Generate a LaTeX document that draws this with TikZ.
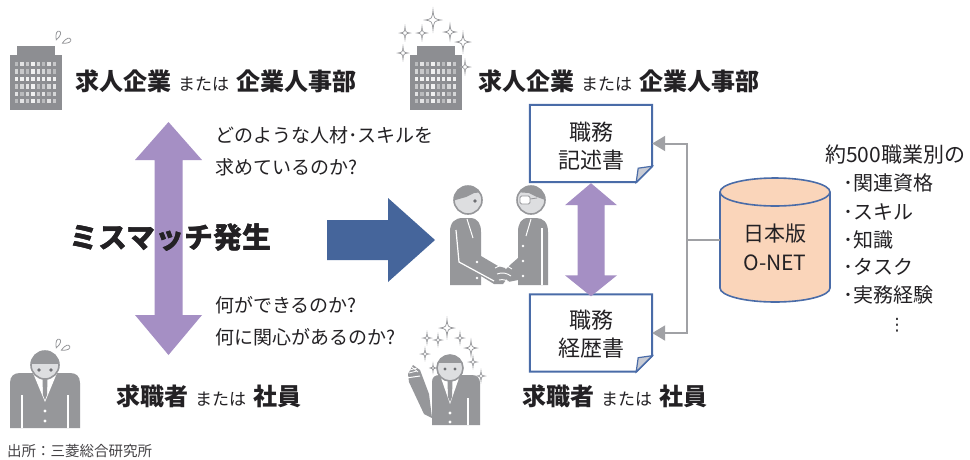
\documentclass[tikz,border=0pt]{standalone}
\usepackage{fontspec}
\usepackage{pdfrender}
\setmainfont{Noto Sans CJK JP}
\newfontfamily\symfont{DejaVu Sans}
\usetikzlibrary{arrows.meta,calc}

\definecolor{ink}{RGB}{35,33,36}
\definecolor{lilac}{RGB}{165,143,196}
\definecolor{navy}{RGB}{69,101,155}
\definecolor{docblue}{RGB}{74,108,168}
\definecolor{foldgray}{RGB}{200,203,212}
\definecolor{peach}{RGB}{250,213,186}
\definecolor{pict}{RGB}{150,151,154}
\definecolor{bldg}{RGB}{141,142,146}
\definecolor{pictdark}{RGB}{110,111,115}
\definecolor{face}{RGB}{221,222,224}
\definecolor{linkgray}{RGB}{160,161,165}

\newcommand\fsz[2]{\fontsize{#1}{#2}\selectfont}
\newcommand\rolepair[2]{{\fsz{24}{28}\bfseries #1}\hspace{7pt}{\fsz{17}{20}または}\hspace{7pt}{\fsz{24}{28}\bfseries #2}}
% text with a white outline: a stroked white copy under the filled text
\newcommand\whitehalo[1]{%
  \rlap{\textpdfrender{TextRenderingMode=Stroke,LineWidth=5.2,LineJoin=1,StrokeColor=white}{#1}}#1}

\tikzset{
  txt/.style={inner sep=0pt, text=ink, anchor=west},
  question/.style={txt, font=\fsz{19}{22}},
  listitem/.style={txt, font=\fsz{20}{24}},
  doctext/.style={inner sep=0pt, text=ink, align=center, font=\fsz{22}{28},
                  minimum width=122pt, minimum height=77pt},
  docline/.style={draw=docblue, line width=2pt, fill=white, line join=miter},
  link/.style={draw=linkgray, line width=2pt},
  linktip/.style={-{Triangle[length=13pt,width=15pt]}},
  mislabel/.style={txt, font=\fsz{29}{32}\bfseries},
  tower/.pic={
    \fill[bldg] (7,-9) rectangle (45,1);
    \fill[bldg] (0,0) rectangle (52,55);
    \foreach \r in {0,...,5}{
      \foreach \c in {0,...,7}{
        \pgfmathtruncatemacro\s{mod(\r*7+\c*3+\r*\c,5)}
        \pgfmathsetmacro\op{0.4+0.12*\s}
        \fill[white, opacity=\op] (5+\c*5.4, 7+\r*7.4) rectangle ++(3.4,4.4);
      }
    }
  },
  sparkle/.pic={
    \filldraw[fill=white, draw=pict, line width=0.7pt]
      (0,-1.25) .. controls (0.12,-0.15) .. (1,0) .. controls (0.12,0.15) .. (0,1.25)
      .. controls (-0.12,0.15) .. (-1,0) .. controls (-0.12,-0.15) .. (0,-1.25) -- cycle;
  },
  drop/.pic={
    \draw[pict, line width=0.8pt] (0,-5) .. controls (-3.5,1) and (-2.2,4) .. (0,4)
      .. controls (2.2,4) and (3.5,1) .. (0,-5) -- cycle;
  }
}

\begin{document}
\begin{tikzpicture}[x=1pt,y=-1pt]
\useasboundingbox (0,0) rectangle (970,459);
\fill[white] (0,0) rectangle (970,459);

% ---------- left: company (troubled) ----------
\pic at (10,55) {tower};
\pic[rotate=160] at (58,35) {drop};
\pic[rotate=115] at (67,41) {drop};
\node[txt] (hqL) at (75,81) {\rolepair{求人企業}{企業人事部}};

% ---------- left: mismatch double arrow ----------
\coordinate (lt) at (168.5,122);
\coordinate (lb) at (168.5,355);
\fill[lilac] let \p1=(lt), \p2=(lb) in
  (\x1,\y1) -- ({\x1+33.5pt},{\y1-38pt}) -- ({\x1+14pt},{\y1-38pt})
  -- ({\x1+14pt},{\y2+40pt}) -- ({\x1+33.5pt},{\y2+40pt}) -- (\x2,\y2)
  -- ({\x1-33.5pt},{\y2+40pt}) -- ({\x1-14pt},{\y2+40pt})
  -- ({\x1-14pt},{\y1-38pt}) -- ({\x1-33.5pt},{\y1-38pt}) -- cycle;

\node[question] (q1) at (215,135) {どのような人材･スキルを};
\node[question] (q2) at (215,167) {求めているのか?};
\node[question] (q3) at (215,305) {何ができるのか?};
\node[question] (q4) at (215,337) {何に関心があるのか?};

\node[mislabel] (mis) at (69,238) {\whitehalo{ミスマッチ発生}};

% ---------- left: job seeker (troubled) ----------
\begin{scope}[shift={(45,365)}]
  \fill[pict] (-35,63) -- (-35,18) .. controls (-35,11) and (-31,8) .. (-25,8)
    -- (25,8) .. controls (31,8) and (35,11) .. (35,18) -- (35,63) -- cycle;
  \fill[white] (-12,8) -- (12,8) -- (0,37) -- cycle;
  \fill[pict] (-2.5,14) -- (2.5,14) -- (2,30) -- (0,35) -- (-2,30) -- cycle;
  \draw[white, line width=1.4pt] (-23,30) -- (-23,63) (23,30) -- (23,63);
  \fill[white] (0,46) circle[radius=1.6] (0,56) circle[radius=1.6];
  \fill[face] (0,0) circle[radius=14];
  \begin{scope}
    \clip (0,0) circle[radius=14];
    \fill[pict] (-15,-15) rectangle (15,-1);
  \end{scope}
  \draw[pict, line width=1.6pt] (0,0) circle[radius=14];
  \fill[pictdark] (-6,5) circle[radius=1.8] (6,5) circle[radius=1.8];
\end{scope}
\pic[rotate=160] at (58,343) {drop};
\pic[rotate=115] at (66,348) {drop};
\node[txt] (hsL) at (116,396) {\rolepair{求職者}{社員}};

% ---------- source ----------
\node[txt, font=\fsz{14.5}{16}, text=ink!85] (src) at (7,451) {出所：三菱総合研究所};

% ---------- big blue arrow ----------
\coordinate (bl) at (327,240);
\coordinate (br) at (435,240);
\fill[navy] let \p1=(bl), \p2=(br) in
  (\x1,{\y1+20pt}) -- ({\x2-47pt},{\y1+20pt}) -- ({\x2-47pt},{\y1+42pt}) -- (\x2,\y2)
  -- ({\x2-47pt},{\y1-42pt}) -- ({\x2-47pt},{\y1-20pt}) -- (\x1,{\y1-20pt}) -- cycle;

% ---------- handshake ----------
% left figure
\fill[pict] (450,285) -- (450,232) .. controls (450,222) and (455,218) .. (463,218)
  -- (470,218) .. controls (478,218) and (481,224) .. (481,232) -- (481,256)
  -- (498,266) -- (505,268) -- (509,276) -- (503,284) -- (494,284) -- (481,276)
  -- (481,285) -- cycle;
\draw[white, line width=1.2pt] (456,230) -- (459,262) -- (494,281);
\draw[white, line width=1pt] (467,219) -- (473,238);
\fill[white] (477,262) circle[radius=1.3] (477,278) circle[radius=1.3];
% right figure
\fill[pict] (548,285) -- (548,232) .. controls (548,222) and (543,218) .. (536,218)
  -- (528,218) .. controls (521,218) and (518,224) .. (518,232) -- (518,258)
  -- (510,265) -- (503,272) -- (508,282) -- (518,280) -- (518,285) -- cycle;
\draw[white, line width=1.2pt] (542,228) -- (542,285);
\draw[white, line width=1pt] (531,219) -- (526,236);
\fill[white] (523,246) circle[radius=1.3] (523,261) circle[radius=1.3] (523,276) circle[radius=1.3];
% clasped hands
\draw[white, line width=0.9pt] (495,268) .. controls (501,264) and (507,265) .. (512,269)
  (497,274) .. controls (502,272) and (507,273) .. (511,276)
  (499,280) .. controls (503,279) and (507,280) .. (510,283);
% heads
\fill[face] (468,200) circle[radius=14];
\begin{scope}
  \clip (468,200) circle[radius=14];
  \fill[pict] (452,184) -- (484,184) -- (484,192) -- (474,193) -- (466,197) -- (452,201) -- cycle;
\end{scope}
\draw[pict, line width=1.6pt] (468,200) circle[radius=14];
\fill[pictdark] (475,201) circle[radius=1.8];
\fill[face] (531,200) circle[radius=14];
\begin{scope}
  \clip (531,200) circle[radius=14];
  \fill[pict] (515,184) -- (548,184) -- (548,201) -- (537,197) -- (529,193) -- (515,192) -- cycle;
\end{scope}
\draw[pict, line width=1.6pt] (531,200) circle[radius=14];
\filldraw[fill=white, draw=pict, line width=0.8pt, rounded corners=1.5pt] (520,196) rectangle (530,204);
\draw[pict, line width=0.8pt] (530,199) -- (537,198);

% ---------- right: company (pleased) ----------
\pic at (410,55) {tower};
\foreach \sx/\sy/\sr in {433/20/8, 405/33/5, 422/33/5, 450/32/6, 463/42/7, 403/53/5, 465/67/5}
  \pic[scale=\sr] at (\sx,\sy) {sparkle};
\node[txt] (hqR) at (478,81) {\rolepair{求人企業}{企業人事部}};

% ---------- right: job seeker (pleased) ----------
\begin{scope}[shift={(450,368)}]
  \fill[pict] (-18,57) -- (-18,14) .. controls (-18,9) and (-15,7) .. (-10,7)
    -- (22,7) .. controls (27,7) and (30,10) .. (30,15) -- (30,57) -- cycle;
  \fill[pict] (-42,6) -- (-37,-3) -- (-30,2) -- (-21,26) -- (-18,50) -- (-26,46) -- (-41,14) -- cycle;
  \draw[white, line width=0.8pt] (-40,2) -- (-33,0) (-41,5) -- (-33,3) (-38,-1) -- (-32,4);
  \draw[white, line width=1pt] (-30,8) -- (-44,10);
  \fill[white] (-10,7) -- (10,7) -- (0,36) -- cycle;
  \fill[pict] (-2.5,13) -- (2.5,13) -- (2,29) -- (0,34) -- (-2,29) -- cycle;
  \draw[white, line width=1.4pt] (18,30) -- (18,57);
  \fill[white] (0,45) circle[radius=1.6] (0,54) circle[radius=1.6];
  \fill[face] (0,0) circle[radius=13];
  \begin{scope}
    \clip (0,0) circle[radius=13];
    \fill[pict] (-14,-14) rectangle (14,-5);
  \end{scope}
  \draw[pict, line width=1.6pt] (0,0) circle[radius=13];
  \fill[pictdark] (-5,1) circle[radius=1.7] (5,1) circle[radius=1.7];
\end{scope}
\foreach \sx/\sy/\sr in {447/328/7, 438/340/4, 427/338/4, 460/338/4, 471/348/6, 425/354/4, 433/368/3, 473/362/4, 481/376/4}
  \pic[scale=\sr] at (\sx,\sy) {sparkle};
\node[txt] (hsR) at (522,396) {\rolepair{求職者}{社員}};

% ---------- job documents ----------
\node[doctext] (jd) at (591,143.5) {};
\node[doctext] (cv) at (591,333) {};
\draw[docline] (jd.north west) -- (jd.north east) -- ([yshift=16pt]jd.south east)
  -- ([xshift=-16pt]jd.south east) -- (jd.south west) -- cycle;
\filldraw[fill=foldgray, draw=docblue, line width=1.2pt] ([yshift=16pt]jd.south east)
  -- ([xshift=-16pt]jd.south east) -- ([xshift=-14pt,yshift=14pt]jd.south east) -- cycle;
\draw[docline] (cv.north west) -- (cv.north east) -- ([yshift=16pt]cv.south east)
  -- ([xshift=-16pt]cv.south east) -- (cv.south west) -- cycle;
\filldraw[fill=foldgray, draw=docblue, line width=1.2pt] ([yshift=16pt]cv.south east)
  -- ([xshift=-16pt]cv.south east) -- ([xshift=-14pt,yshift=14pt]cv.south east) -- cycle;
\node[doctext] (jdt) at (591,146) {職務\\記述書};
\node[doctext] (cvt) at (591,334) {職務\\経歴書};

% double arrow between the documents
\fill[lilac] let \p1=([yshift=-1pt]jd.south), \p2=([yshift=-2pt]cv.north) in
  (\x1,\y1) -- ({\x1+26pt},{\y1-22pt}) -- ({\x1+13.5pt},{\y1-22pt})
  -- ({\x1+13.5pt},{\y2+21pt}) -- ({\x1+26pt},{\y2+21pt}) -- (\x2,\y2)
  -- ({\x1-26pt},{\y2+21pt}) -- ({\x1-13.5pt},{\y2+21pt})
  -- ({\x1-13.5pt},{\y1-22pt}) -- ({\x1-26pt},{\y1-22pt}) -- cycle;

% ---------- O-NET database ----------
\node[inner sep=0pt, minimum width=110pt, minimum height=124pt] (onet) at (775,240) {};
\filldraw[fill=peach, draw=docblue, line width=1.6pt]
  (720,192) -- (720,288) arc[start angle=180, end angle=0, x radius=55, y radius=14]
  -- (830,192) arc[start angle=0, end angle=-180, x radius=55, y radius=14] -- cycle;
\draw[docblue, line width=1.6pt] (720,192) arc[start angle=180, end angle=0, x radius=55, y radius=14];
\node[inner sep=0pt, text=ink, align=center, font=\fsz{21}{29}] (onett) at (775,247) {日本版\\O-NET};

% connectors from the database to both documents
\coordinate (j) at (687,240);
\draw[link] (onet.west) -- (j);
\draw[link, linktip] (j) |- (jd.east);
\draw[link, linktip] (j) |- (cv.east);

% ---------- O-NET contents ----------
\node[listitem, font=\fsz{21}{24}] (ol0) at (825,155) {約500職業別の};
\node[listitem] (ol1) at (843,183) {･関連資格};
\node[listitem] (ol2) at (843,212) {･スキル};
\node[listitem] (ol3) at (843,240) {･知識};
\node[listitem] (ol4) at (843,267) {･タスク};
\node[listitem] (ol5) at (843,295) {･実務経験};
\node[inner sep=0pt, text=ink, font=\symfont\fsz{17}{20}] (ol6) at (897,325) {⋮};

\end{tikzpicture}
\end{document}
